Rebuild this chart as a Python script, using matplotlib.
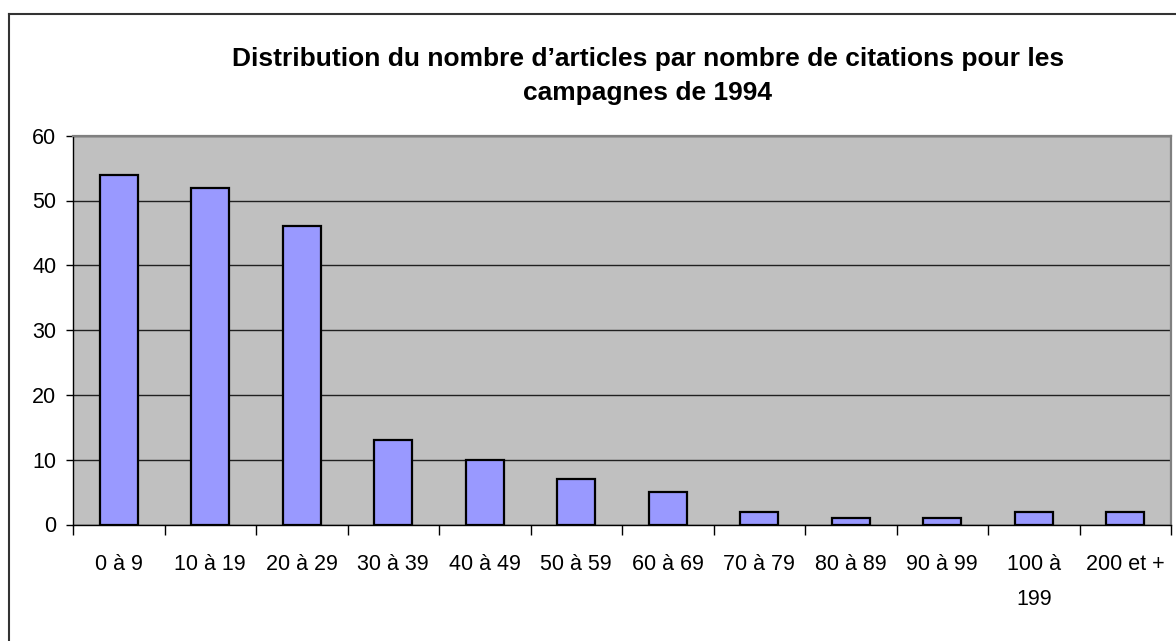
import matplotlib.pyplot as plt
from matplotlib.lines import Line2D
import numpy as np

plt.rcParams["font.family"] = ["Liberation Sans", "DejaVu Sans"]

categories = ["0 à 9", "10 à 19", "20 à 29", "30 à 39", "40 à 49", "50 à 59",
              "60 à 69", "70 à 79", "80 à 89", "90 à 99", "100 à\n199", "200 et +"]
counts = [54, 52, 46, 13, 10, 7, 5, 2, 1, 1, 2, 2]
title = ("Distribution du nombre d\u2019articles par nombre de citations pour les\n"
         "campagnes de 1994")

W, H = 1176, 641
fig = plt.figure(figsize=(W / 100, H / 100), dpi=100)
ax = fig.add_axes([73 / W, 1 - 524.5 / H, 1098 / W, 388.8 / H])

x = np.arange(len(categories))
ax.set_facecolor("#C0C0C0")
ax.bar(x, counts, width=0.42, color="#9999FF", edgecolor="black", linewidth=1.6, zorder=3)

ax.set_xlim(-0.5, len(categories) - 0.5)
ax.set_ylim(0, 60)
ax.set_yticks(np.arange(0, 61, 10))
ax.yaxis.grid(True, color="#202020", linewidth=1.0, zorder=1)
ax.tick_params(axis="y", labelsize=15.5, length=5, width=1, pad=7)

# boundary ticks (unlabelled) and centred labels
ax.set_xticks(np.arange(-0.5, len(categories), 1.0))
ax.set_xticklabels([])
ax.set_xticks(x, minor=True)
ax.set_xticklabels(categories, minor=True, fontsize=15.5, linespacing=1.9)
ax.tick_params(axis="x", which="major", length=7, width=1, direction="out")
ax.tick_params(axis="x", which="minor", length=0, pad=21)

for s in ["left", "bottom"]:
    ax.spines[s].set_color("black")
    ax.spines[s].set_linewidth(1.0)
for s in ["top", "right"]:
    ax.spines[s].set_color("#808080")
    ax.spines[s].set_linewidth(1.6)

fig.text(648 / W, 1 - 76 / H, title, ha="center", va="center",
         fontsize=19, fontweight="bold", linespacing=1.55)

# chart area border
bx, by = 8.5 / W, 1 - 13.5 / H
fig.add_artist(Line2D([bx, bx], [0, by], transform=fig.transFigure, color="#333333", lw=1.5))
fig.add_artist(Line2D([bx, 1], [by, by], transform=fig.transFigure, color="#333333", lw=1.5))

fig.savefig("out.png", dpi=100)
